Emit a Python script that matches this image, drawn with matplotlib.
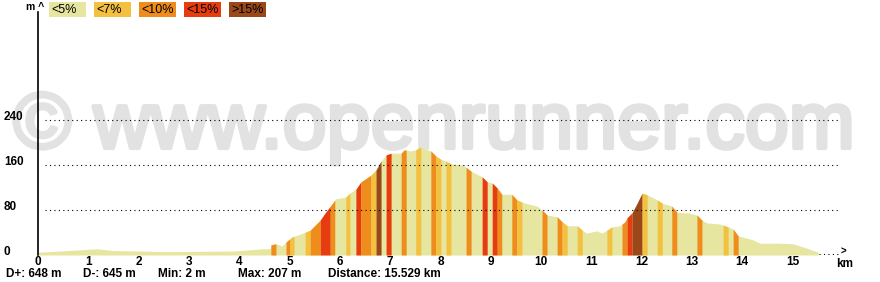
import numpy as np
import matplotlib.pyplot as plt
from matplotlib.patches import Rectangle
import matplotlib.transforms as mtransforms
import matplotlib.patheffects as pe

plt.rcParams['font.family'] = ['Liberation Sans', 'DejaVu Sans']

# elevation profile (km, m)
dist_km = [0, 0.44, 1.17, 1.49, 2.56, 3.88, 4.47, 4.61, 4.63, 4.73, 4.85, 4.93, 5.05,
           5.21, 5.41, 5.61, 5.71, 5.83, 5.92, 6.12, 6.20, 6.32, 6.42, 6.62, 6.72, 6.82,
           6.92, 7.02, 7.22, 7.28, 7.40, 7.51, 7.61, 7.71, 7.81, 7.91, 8.01, 8.11, 8.21,
           8.45, 8.51, 8.61, 8.83, 8.93, 9.03, 9.13, 9.22, 9.42, 9.52, 9.62, 9.78, 9.92,
           10.02, 10.12, 10.32, 10.42, 10.52, 10.72, 10.82, 10.91, 11.01, 11.11, 11.21,
           11.31, 11.41, 11.57, 11.67, 11.71, 11.81, 11.91, 12.01, 12.11, 12.31, 12.41,
           12.60, 12.70, 12.90, 13.10, 13.20, 13.30, 13.56, 13.72, 13.82, 13.92, 14.21,
           14.35, 14.69, 15.01, 15.29, 15.51]
elev_m = [5, 7, 11, 8, 6, 7, 11, 11, 18, 20, 16, 23, 32,
          37, 44, 62, 75, 89, 100, 103, 110, 117, 130, 142, 151, 167,
          178, 181, 181, 187, 185, 187, 192, 188, 185, 176, 170, 167, 162,
          160, 156, 149, 139, 130, 128, 119, 108, 108, 98, 94, 90, 87,
          80, 71, 68, 59, 52, 52, 44, 39, 41, 43, 39,
          44, 50, 52, 59, 66, 75, 92, 110, 107, 98, 92,
          87, 76, 75, 71, 62, 57, 55, 50, 46, 34, 27,
          21, 21, 20, 12, 5]

# slope stripes: start km, end km, class (1 <7%, 2 <10%, 3 <15%, 4 >15%)
stripe_start = [4.63, 4.93, 5.01, 5.31, 5.41, 5.61, 5.81, 6.12, 6.32, 6.42, 6.62, 6.72,
                6.92, 7.22, 7.51, 7.81, 7.91, 8.11, 8.51, 8.83, 9.03, 9.13, 9.42, 9.52,
                10.02, 10.32, 10.42, 10.72, 11.31, 11.61, 11.71, 11.81, 12.01, 12.31,
                12.60, 13.10, 13.62, 13.82]
stripe_end = [4.73, 5.01, 5.09, 5.41, 5.61, 5.81, 5.90, 6.20, 6.42, 6.62, 6.72, 6.82,
              7.02, 7.32, 7.61, 7.91, 8.01, 8.21, 8.61, 8.93, 9.13, 9.22, 9.52, 9.62,
              10.12, 10.42, 10.52, 10.82, 11.41, 11.71, 11.81, 12.01, 12.11, 12.41,
              12.70, 13.20, 13.72, 13.92]
stripe_cls = [2, 2, 1, 1, 2, 3, 2, 1, 3, 2, 1, 4,
              3, 2, 1, 2, 1, 1, 2, 3, 3, 2, 2, 1,
              2, 2, 1, 1, 1, 2, 3, 4, 1, 1,
              2, 2, 1, 2]

slope_labels = ['<5%', '<7%', '<10%', '<15%', '>15%']
slope_colors = ['#e6e6a0', '#f3c040', '#ef8d1c', '#e63c10', '#9a481a']

y_ticks = [0, 80, 160, 240]
x_ticks = list(range(16))
stats = ['D+: 648 m', 'D-: 645 m', 'Min: 2 m', 'Max: 207 m', 'Distance: 15.529 km']
stats_x = [6, 83, 158, 238, 328]

W, H = 880, 282
KM_PX, M_PX = 50.3, 0.5625
X0, Y0 = 38, 255

def px(x, y):
    return x / W, 1 - y / H

fig = plt.figure(figsize=(W / 100, H / 100), dpi=100)
fig.patch.set_facecolor('white')
ax = fig.add_axes([X0 / W, (H - Y0) / H, (846 - X0) / W, (Y0 - 12) / H])
ax.set_facecolor('none')
ax.set_xlim(0, (846 - X0) / KM_PX)
ax.set_ylim(0, (Y0 - 12) / M_PX)

# watermark
wm_col = '#e2e2e2'
fig.text(*px(434, 148), '\u00a9 www.openrunner.com', ha='center', va='baseline',
         fontsize=57, color=wm_col, zorder=-5,
         path_effects=[pe.withStroke(linewidth=3, foreground=wm_col)])

d = np.array(dist_km)
e = np.array(elev_m)
ax.fill_between(d, 0, e, color=slope_colors[0], lw=0, zorder=2)
for s, t, c in zip(stripe_start, stripe_end, stripe_cls):
    xs = np.concatenate([[s], d[(d > s) & (d < t)], [t]])
    ax.fill_between(xs, 0, np.interp(xs, d, e), color=slope_colors[c], lw=0, zorder=3)

ax.hlines(y_ticks[1:], 0.14, 15.95, colors='black', linestyles=(0, (1, 3)), lw=0.8, zorder=4)
ax.hlines(2, dist_km[-1] + 0.02, 15.95, colors='black', linestyles=(0, (1, 3)), lw=0.8)

for sp in ['top', 'right', 'bottom']:
    ax.spines[sp].set_visible(False)
ax.spines['left'].set_linewidth(1.2)
ax.spines['left'].set_zorder(5)

ax.set_xticks(x_ticks)
ax.set_xticklabels([str(v) for v in x_ticks], fontsize=8.5, fontweight='bold')
ax.tick_params(axis='x', length=0, pad=1)
ax.set_yticks([])

ytr = mtransforms.blended_transform_factory(fig.transFigure, ax.transData)
for v in y_ticks:
    ax.text(4 / W, v + 6, str(v), transform=ytr, ha='left', va='center',
            fontsize=8.5, fontweight='bold')

fig.text(*px(843, 252), '>', ha='center', va='center', fontsize=7, fontweight='bold')
fig.text(*px(845, 264), 'km', ha='center', va='center', fontsize=8.5, fontweight='bold')
fig.text(*px(26, 7), 'm ^', ha='left', va='center', fontsize=7.5, fontweight='bold')

for i, (lab, col) in enumerate(zip(slope_labels, slope_colors)):
    bx = 49 + i * 45
    fig.patches.append(Rectangle(px(bx, 17), 37 / W, 15 / H, transform=fig.transFigure,
                                 facecolor=col, edgecolor='none'))
    fig.text(*px(bx + 2, 10), lab, ha='left', va='center', fontsize=9)

for sx, st in zip(stats_x, stats):
    fig.text(*px(sx, 274), st, ha='left', va='center', fontsize=8.5, fontweight='bold')

fig.savefig('out.png', dpi=100)
